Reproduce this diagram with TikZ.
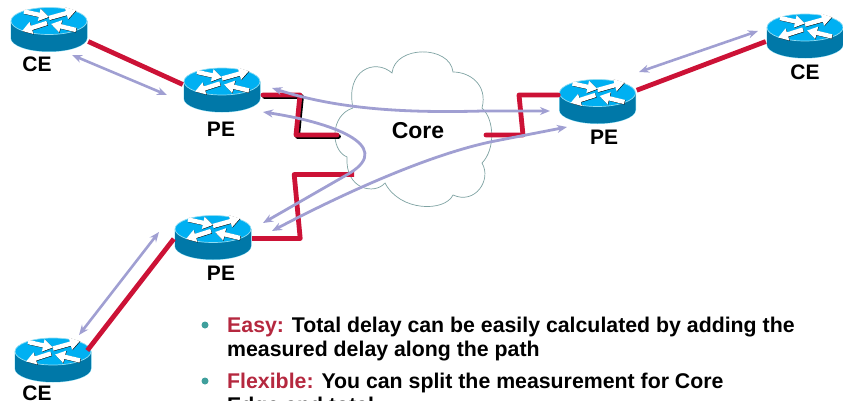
\documentclass[tikz,border=0pt]{standalone}
\usepackage{fontspec}
\setmainfont{Liberation Sans}
\usetikzlibrary{arrows.meta}
\definecolor{linkred}{HTML}{CC1236}
\definecolor{delayblue}{HTML}{A09FD2}
\definecolor{routertop}{HTML}{00B0F2}
\definecolor{routerside}{HTML}{0078A8}
\definecolor{routeredge}{HTML}{8FDCF2}
\definecolor{cloudedge}{HTML}{7FA3A3}
\definecolor{easyred}{HTML}{B5283F}
\definecolor{bulletteal}{HTML}{3F9F9C}
\tikzset{
  router/.style={minimum width=78pt, minimum height=46pt, inner sep=0pt, path picture={
    \begin{scope}[shift={(path picture bounding box.center)}]
    \fill [routeredge] (-38.5pt,8.5pt) -- (-38.5pt,-8.5pt) arc [start angle=180, end angle=360, x radius=38.5pt, y radius=14pt] -- (38.5pt,8.5pt) -- cycle;
    \fill [routerside] (-38pt,8.5pt) -- (-38pt,-8.5pt) arc [start angle=180, end angle=360, x radius=38pt, y radius=13.5pt] -- (38pt,8.5pt) -- cycle;
    \draw [routeredge, fill=routertop, line width=0.7pt] (0pt,8.5pt) ellipse [x radius=38pt, y radius=13.5pt];
    \foreach \ax/\ay/\bx/\by in {0/3/27/10.5, -25/9.5/0/4, -2/-2/-27/-10, 27/-9/2/-3} {
      \draw [black, line width=4.4pt, -{Triangle[length=10pt,width=12pt]}] (\ax pt+0.4pt,\ay pt+8.1pt) -- (\bx pt+0.4pt,\by pt+8.1pt);
      \draw [white, line width=4.4pt, -{Triangle[length=10pt,width=12pt]}] (\ax pt,\ay pt+8.5pt) -- (\bx pt,\by pt+8.5pt);
    }
    \end{scope}}},
  redlink/.style={linkred, line width=4.8pt, line join=round},
  delay/.style={delayblue, line width=2.6pt, {Stealth[length=10pt,width=8pt]}-{Stealth[length=10pt,width=8pt]}},
  delaycurve/.style={delay, line width=2.8pt},
  devlabel/.style={font=\bfseries\fontsize{21pt}{24pt}\selectfont, inner sep=0pt},
  bullet/.style={circle, fill=bulletteal, minimum size=7pt, inner sep=0pt},
  bullettext/.style={font=\bfseries\fontsize{21.3pt}{24pt}\selectfont, anchor=north west, align=left, inner sep=0pt}
}
\begin{document}
\begin{tikzpicture}
\useasboundingbox (0,0) rectangle (843pt,400pt);
% cloud
\draw [cloudedge, fill=white, line width=0.7pt] (353pt,292pt)
   .. controls (330pt,285pt) and (330pt,250pt) .. (347pt,243pt)
   .. controls (345pt,210pt) and (375pt,205pt) .. (385pt,217pt)
   .. controls (400pt,188pt) and (445pt,188pt) .. (453pt,205pt)
   .. controls (475pt,195pt) and (492pt,220pt) .. (482pt,237pt)
   .. controls (495pt,250pt) and (495pt,280pt) .. (482pt,292pt)
   .. controls (488pt,315pt) and (470pt,328pt) .. (453pt,328pt)
   .. controls (450pt,355pt) and (395pt,355pt) .. (392pt,327pt)
   .. controls (375pt,342pt) and (345pt,330pt) .. (353pt,292pt);
\node (core) at (418pt,269pt) [font=\bfseries\fontsize{23pt}{27pt}\selectfont, inner sep=0pt] {Core};
% routers
\node (celeft) at (49pt,370.5pt) [router] {};
\node (peleft) at (222pt,310pt) [router] {};
\node (peright) at (597.5pt,298.5pt) [router] {};
\node (ceright) at (805pt,364pt) [router] {};
\node (pelow) at (213pt,162.5pt) [router] {};
\node (celow) at (53pt,40pt) [router] {};
\node (celeftlabel) at (37pt,336pt) [devlabel] {CE};
\node (peleftlabel) at (221pt,271pt) [devlabel] {PE};
\node (perightlabel) at (604pt,263pt) [devlabel] {PE};
\node (cerightlabel) at (805pt,328pt) [devlabel] {CE};
\node (pelowlabel) at (221pt,127pt) [devlabel] {PE};
\node (celowlabel) at (37pt,7pt) [devlabel] {CE};
% access links
\draw [redlink] (ceright.-172) -- (peright.16);
\draw [redlink] (celeft.-17) -- (peleft.172);
\draw [redlink, shorten >=-8pt] (pelow.182) -- (celow.22);
% links into the cloud
\draw [redlink, black, line cap=round, xshift=1.5pt, yshift=-1.5pt] (263pt,305pt) -- ++(37pt,0pt) -- ++(-4pt,-40pt) -- ++(41pt,0pt);
\draw [redlink, line cap=round] (263pt,305pt) coordinate (pelefttail) -- ++(37pt,0pt) -- ++(-4pt,-40pt) -- ++(41pt,0pt) coordinate (coreleft);
\draw [redlink] (pelow.east) ++(0pt,-1pt) -- ++(48pt,0pt) -- ++(-6pt,64pt) -- ++(60pt,0pt) coordinate (corelow);
\draw [redlink, line cap=round] (486pt,265pt) coordinate (coreright) -- ++(37pt,0pt) -- ++(-4pt,40pt) -- (peright.west |- 0,305pt);
% delay arrows
\draw [delay] (72pt,345pt) -- (167pt,305pt);
\draw [delay] (758pt,369pt) -- (639pt,328pt);
\draw [delay] (159pt,168pt) -- (79pt,65pt);
\draw [delaycurve] (272pt,312pt) .. controls (340pt,290pt) and (410pt,287pt) .. (483pt,289pt) -- (550pt,289pt);
\draw [delaycurve] (263pt,288pt) .. controls (330pt,278pt) and (395pt,255pt) .. (350pt,227pt) -- (263pt,177pt);
\draw [delaycurve] (272pt,169pt) .. controls (350pt,210pt) and (430pt,245pt) .. (490pt,258pt) -- (567pt,273pt);
% bullet list
\node (firstbullet) at (205pt,75pt) [bullet] {};
\node (secondbullet) at (205pt,19pt) [bullet] {};
\node (firsttext) at (227pt,83pt) [bullettext] {\textcolor{easyred}{Easy:} Total delay can be easily calculated by adding the\\measured delay along the path};
\node (secondtext) at (227pt,27pt) [bullettext] {\textcolor{easyred}{Flexible:} You can split the measurement for Core\\Edge and total};
\end{tikzpicture}
\end{document}
